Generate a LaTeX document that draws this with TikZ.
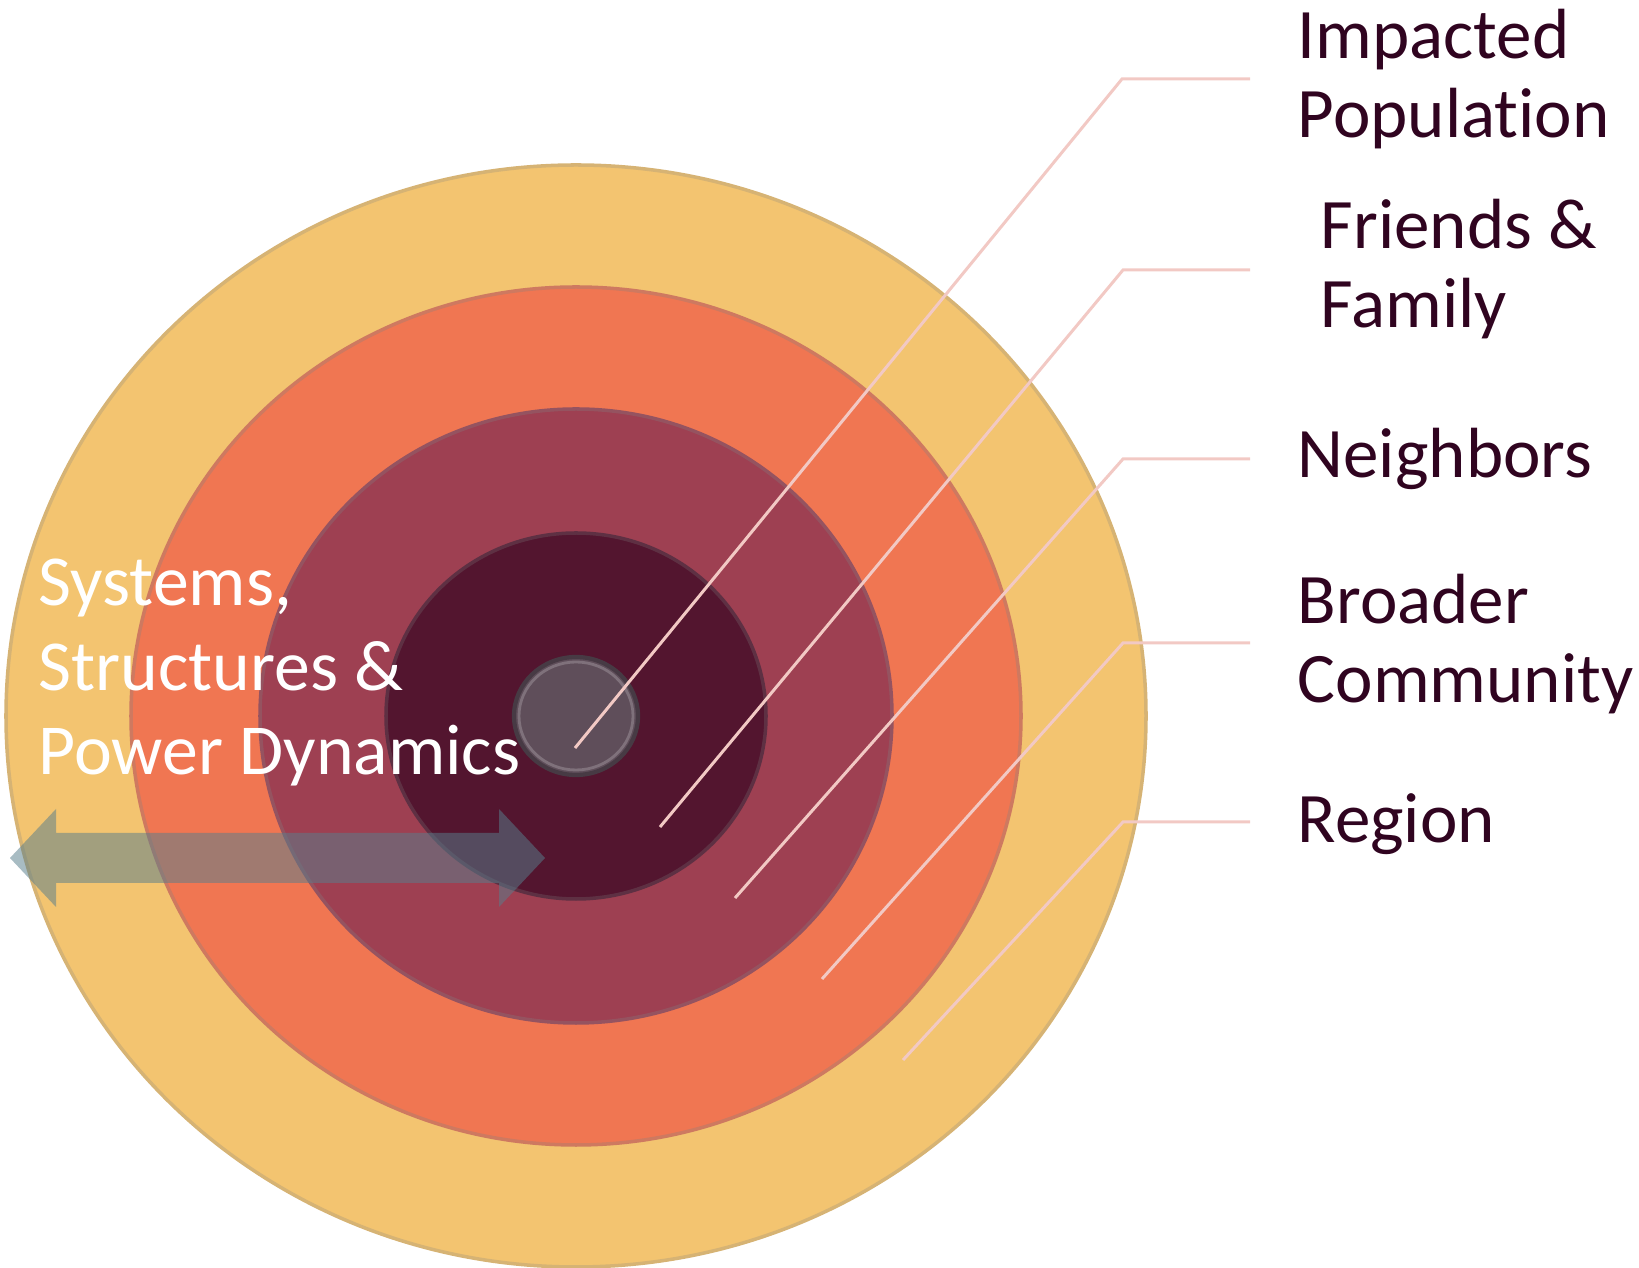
\documentclass[tikz,border=0pt]{standalone}
\usepackage{fontspec}
\setmainfont{Carlito}[Ligatures=NoCommon]
\usetikzlibrary{positioning}

\definecolor{regionfill}{RGB}{243,196,112}
\definecolor{communityfill}{RGB}{240,118,82}
\definecolor{neighborfill}{RGB}{158,64,82}
\definecolor{familyfill}{RGB}{83,21,47}
\definecolor{corefill}{RGB}{95,78,90}
\definecolor{leadpink}{RGB}{242,201,196}
\definecolor{labelplum}{RGB}{48,4,32}
\definecolor{arrowslate}{RGB}{88,126,140}

\tikzset{
  ring/.style={line width=1pt},
  leader/.style={draw=leadpink, line width=0.85pt},
  lbl/.style={anchor=base west, inner sep=0pt, align=left, text=labelplum,
    font=\fontsize{20.2}{22.7}\selectfont},
}

\begin{document}
\begin{tikzpicture}[x=0.01cm, y=-0.01cm]
  \useasboundingbox (0,0) rectangle (1639,1268);
  \coordinate (O) at (576,716);

  % rings, outside in
  \filldraw[ring, fill=regionfill, draw=regionfill!75!gray] (O) ellipse [x radius=570, y radius=551];
  \filldraw[ring, fill=communityfill, draw=communityfill!70!gray] (O) ellipse [x radius=445, y radius=429];
  \filldraw[ring, fill=neighborfill, draw=neighborfill!70!gray] (O) ellipse [x radius=316, y radius=307];
  \filldraw[ring, fill=familyfill, draw=familyfill!75!gray] (O) ellipse [x radius=190, y radius=183];
  \filldraw[line width=1.2pt, fill=corefill, draw=corefill!75!black] (O) ellipse [x radius=62, y radius=59];
  \draw[corefill!80!white, line width=0.8pt] (O) ellipse [x radius=57, y radius=54];

  % double arrow
  \fill[arrowslate, opacity=0.52] (10,858) -- (56,809) -- (56,833) -- (499,833) -- (499,809)
    -- (545,858) -- (499,907) -- (499,883) -- (56,883) -- (56,907) -- cycle;

  % leader ends
  \coordinate (ip) at (575,748);   \coordinate (ipk) at (1122,79);  \coordinate (ipe) at (1250,79);
  \coordinate (ff) at (660,827);   \coordinate (ffk) at (1123,270); \coordinate (ffe) at (1250,270);
  \coordinate (nb) at (735,898);   \coordinate (nbk) at (1123,459); \coordinate (nbe) at (1250,459);
  \coordinate (bc) at (822,979);   \coordinate (bck) at (1123,643); \coordinate (bce) at (1250,643);
  \coordinate (rg) at (903,1060);  \coordinate (rgk) at (1123,822); \coordinate (rge) at (1250,822);

  \draw[leader] (ip) -- (ipk) -- (ipe);
  \draw[leader] (ff) -- (ffk) -- (ffe);
  \draw[leader] (nb) -- (nbk) -- (nbe);
  \draw[leader] (bc) -- (bck) -- (bce);
  \draw[leader] (rg) -- (rgk) -- (rge);

  % labels (base = last line)
  \node[lbl] (impacted) at (1297,138) {Impacted\\Population};
  \node[lbl] (friends) at (1320,328) {Friends \&\\Family};
  \node[lbl] (neighbors) at (1297,478) {Neighbors};
  \node[lbl] (broader) at (1297,703) {Broader\\Community};
  \node[lbl] (region) at (1297,843) {Region};

  \node[lbl, text=white, font=\fontsize{20.4}{24.1}\selectfont] (systems) at (38,775)
    {Systems,\\Structures \&\\Power Dynamics};
\end{tikzpicture}
\end{document}
